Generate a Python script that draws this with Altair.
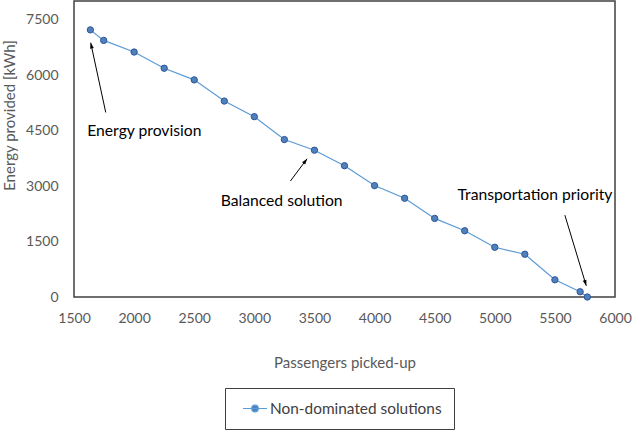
import altair as alt
import pandas as pd

# data
passengers = [1636, 1747, 2000, 2250, 2500, 2750, 3000, 3250, 3500, 3750, 4000,
              4250, 4500, 4750, 5000, 5250, 5500, 5710, 5770]
energy = [7220, 6935, 6621, 6183, 5868, 5296, 4874, 4255, 3968, 3548, 3011,
          2669, 2125, 1790, 1344, 1156, 465, 142, 0]
series_name = "Non-dominated solutions"

x_ticks = [1500, 2000, 2500, 3000, 3500, 4000, 4500, 5000, 5500, 6000]
y_ticks = [0, 1500, 3000, 4500, 6000, 7500]

# annotations
ann_labels = ["Energy provision", "Balanced solution", "Transportation priority"]
ann_x = [1610, 2720, 4690]
ann_y = [4500, 2590, 2750]
arrow_x0 = [1764, 3300, 5583]
arrow_y0 = [4989, 3134, 2212]
arrow_x1 = [1639, 3439, 5761]
arrow_y1 = [6871, 3737, 304]
arrow_angle = [348, 37, 163]

df = pd.DataFrame({"x": passengers, "y": energy, "series": series_name})
ann = pd.DataFrame({"label": ann_labels, "x": ann_x, "y": ann_y})
arr = pd.DataFrame({"x0": arrow_x0, "y0": arrow_y0, "x1": arrow_x1,
                    "y1": arrow_y1, "angle": arrow_angle})

FONT = "Lato"
GRAY = "#595959"

xs = alt.Scale(domain=[1500, 6000], nice=False, zero=False)
ys = alt.Scale(domain=[0, 8000], nice=False)

xax = alt.Axis(values=x_ticks, title="Passengers picked-up", grid=False, ticks=False,
               domain=False, labelFont=FONT, labelFontSize=14, labelColor=GRAY,
               labelPadding=14, titleFont=FONT, titleFontSize=15, titleColor=GRAY,
               titleFontWeight="normal", titleY=65, titleBaseline="middle", format="d",
               labelFlush=False)
yax = alt.Axis(values=y_ticks, title="Energy provided [kWh]", grid=False, ticks=False,
               domain=False, labelFont=FONT, labelFontSize=14, labelColor=GRAY,
               labelPadding=16, titleFont=FONT, titleFontSize=15, titleColor=GRAY,
               titleFontWeight="normal", titleX=-65, titleY=114, titleAngle=-90,
               titleAlign="center", titleBaseline="middle", format="d", labelFlush=False)

line = alt.Chart(df).mark_line(color="#5B9BD5", strokeWidth=1.2).encode(
    x=alt.X("x:Q", scale=xs, axis=xax),
    y=alt.Y("y:Q", scale=ys, axis=yax),
)

legend_path = "M-0.333,0L2.867,0M1.707,0A0.44,0.44 0 1 1 0.827,0A0.44,0.44 0 1 1 1.707,0Z"

points = alt.Chart(df).mark_point(filled=True, size=40, stroke="#2F5597",
                                  strokeWidth=1, opacity=1).encode(
    x=alt.X("x:Q", scale=xs),
    y=alt.Y("y:Q", scale=ys),
    color=alt.Color("series:N", scale=alt.Scale(range=["#4F81BD"]),
                    legend=alt.Legend(title=None, orient="none", legendX=151, legendY=387,
                                      strokeColor="#404040", padding=12,
                                      symbolType=legend_path, symbolSize=225,
                                      symbolStrokeColor="#5B9BD5", symbolFillColor="#4F81BD",
                                      symbolStrokeWidth=1.2, labelFont=FONT,
                                      labelFontSize=15.4, labelColor="#404040",
                                      labelOffset=16, labelLimit=400)),
)

texts = alt.Chart(ann).mark_text(align="left", baseline="middle", font=FONT,
                                 fontSize=15.7, color="#000000").encode(
    x=alt.X("x:Q", scale=xs), y=alt.Y("y:Q", scale=ys), text="label:N")

rules = alt.Chart(arr).mark_rule(color="#000000", strokeWidth=1).encode(
    x=alt.X("x0:Q", scale=xs), y=alt.Y("y0:Q", scale=ys),
    x2="x1:Q", y2="y1:Q")

heads = alt.Chart(arr).mark_point(filled=True, shape="M0,0L-0.5,1.5L0.5,1.5Z",
                                  size=60, color="#000000", opacity=1).encode(
    x=alt.X("x1:Q", scale=xs), y=alt.Y("y1:Q", scale=ys),
    angle=alt.Angle("angle:Q", scale=None))

chart = alt.layer(line, rules, heads, points, texts).properties(
    width=541, height=296,
    background="white",
    autosize=alt.AutoSizeParams(type="none"),
    padding={"left": 74, "top": 1, "right": 18, "bottom": 134},
).configure_view(stroke="#404040", strokeWidth=1.5)

chart.save("out.html", embed_options={"renderer": "svg", "actions": False})
